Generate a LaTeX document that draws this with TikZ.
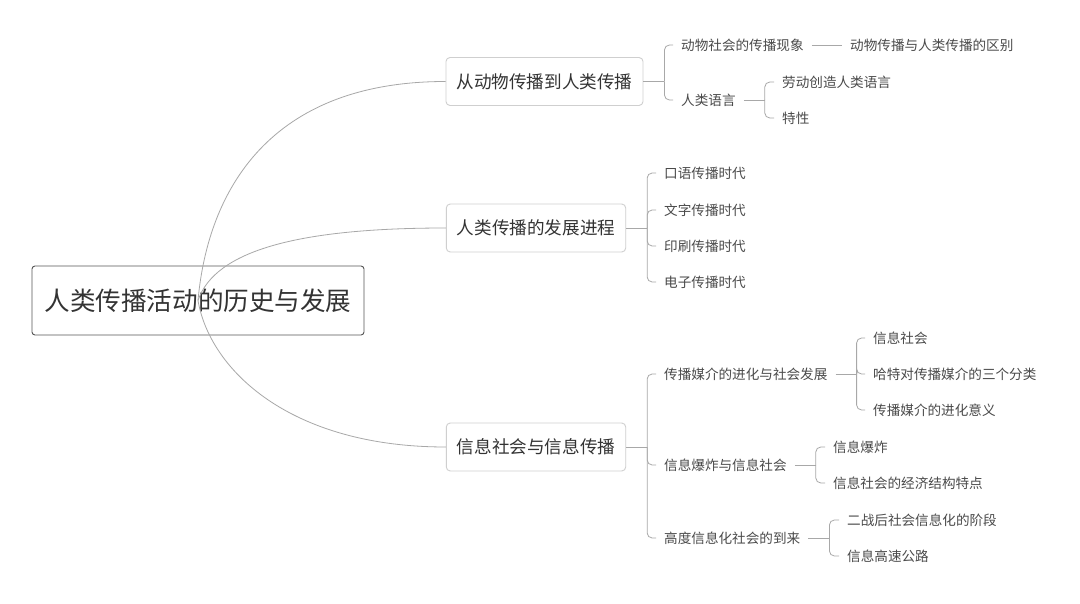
\documentclass[tikz,border=0pt]{standalone}
\usepackage{fontspec}
\usepackage{tikz}
\usetikzlibrary{calc}
\newfontfamily\cjk{Noto Sans CJK SC}
\definecolor{ink}{HTML}{333333}
\definecolor{leafink}{HTML}{4A4A4A}
\definecolor{rootedge}{HTML}{555555}
\definecolor{boxedge}{HTML}{CFCFCF}
\definecolor{wire}{HTML}{A8A8A8}
\tikzset{
  root/.style={draw=rootedge, line width=0.9pt, rounded corners=3pt, fill=white, text=ink,
    minimum width=332pt, minimum height=69pt, font=\cjk\fontsize{25.6pt}{30pt}\selectfont},
  topic/.style={draw=boxedge, line width=0.9pt, rounded corners=4pt, fill=white, text=ink,
    inner xsep=10.5pt, minimum height=48pt, font=\cjk\fontsize{17.6pt}{21pt}\selectfont},
  leaf/.style={anchor=west, inner xsep=8pt, inner ysep=2pt, text=leafink,
    font=\cjk\fontsize{13.6pt}{16pt}\selectfont},
  curve/.style={draw=wire, line width=0.8pt},
  link/.style={draw=wire, line width=0.8pt, rounded corners=5pt},
}
\begin{document}
\begin{tikzpicture}[x=1pt,y=-1pt]
  \fill[white] (0,0) rectangle (1080,604);
  \useasboundingbox (0,0) rectangle (1080,604);
  % centre and main topics
  \node[root] (root) at (198,300.5) {人类传播活动的历史与发展};
  \node[topic] (t1) at (544.5,81.5) {从动物传播到人类传播};
  \node[topic] (t2) at (536,228) {人类传播的发展进程};
  \node[topic] (t3) at (536,447) {信息社会与信息传播};
  \draw[curve] (root.center) .. controls (208,190) and (270,81.5) .. (t1.west);
  \draw[curve] (root.center) .. controls (215,250) and (300,228) .. (t2.west);
  \draw[curve] (root.center) .. controls (210,370) and (290,447) .. (t3.west);
  % branch 1
  \node[leaf] (t1a) at (673,45) {动物社会的传播现象};
  \node[leaf] (t1b) at (673,100) {人类语言};
  \node[leaf] (t1a1) at (842,45) {动物传播与人类传播的区别};
  \node[leaf] (t1b1) at (774,82) {劳动创造人类语言};
  \node[leaf] (t1b2) at (774,118) {特性};
  \coordinate (k1) at ($(t1.east)+(21,0)$);
  \draw[link] (t1.east) -- (k1);
  \foreach \c in {a,b}
    \draw[link] (k1) |- (t1\c.west);
  \draw[link] (t1a.east) -- (t1a1.west);
  \coordinate (k1b) at ($(t1b.east)+(21,0)$);
  \draw[link] (t1b.east) -- (k1b);
  \foreach \c in {1,2}
    \draw[link] (k1b) |- (t1b\c.west);
  % branch 2
  \foreach \c/\y/\s in {a/173/口语传播时代, b/210/文字传播时代, c/246/印刷传播时代, d/282/电子传播时代}
    \node[leaf] (t2\c) at (656,\y) {\s};
  \coordinate (k2) at ($(t2.east)+(21,0)$);
  \draw[link] (t2.east) -- (k2);
  \foreach \c in {a,b,c,d}
    \draw[link] (k2) |- (t2\c.west);
  % branch 3
  \node[leaf] (t3a) at (656,374) {传播媒介的进化与社会发展};
  \node[leaf] (t3b) at (656,465) {信息爆炸与信息社会};
  \node[leaf] (t3c) at (656,538) {高度信息化社会的到来};
  \coordinate (k3) at ($(t3.east)+(21,0)$);
  \draw[link] (t3.east) -- (k3);
  \foreach \c in {a,b,c}
    \draw[link] (k3) |- (t3\c.west);
  \node[leaf] (t3a1) at (865,338) {信息社会};
  \node[leaf] (t3a2) at (865,374) {哈特对传播媒介的三个分类};
  \node[leaf] (t3a3) at (865,410) {传播媒介的进化意义};
  \node[leaf] (t3b1) at (825,447) {信息爆炸};
  \node[leaf] (t3b2) at (825,483) {信息社会的经济结构特点};
  \node[leaf] (t3c1) at (839,520) {二战后社会信息化的阶段};
  \node[leaf] (t3c2) at (839,556) {信息高速公路};
  \foreach \p/\n in {a/3, b/2, c/2} {
    \coordinate (k3\p) at ($(t3\p.east)+(21,0)$);
    \draw[link] (t3\p.east) -- (k3\p);
    \foreach \c in {1,...,\n}
      \draw[link] (k3\p) |- (t3\p\c.west);
  }
\end{tikzpicture}
\end{document}
